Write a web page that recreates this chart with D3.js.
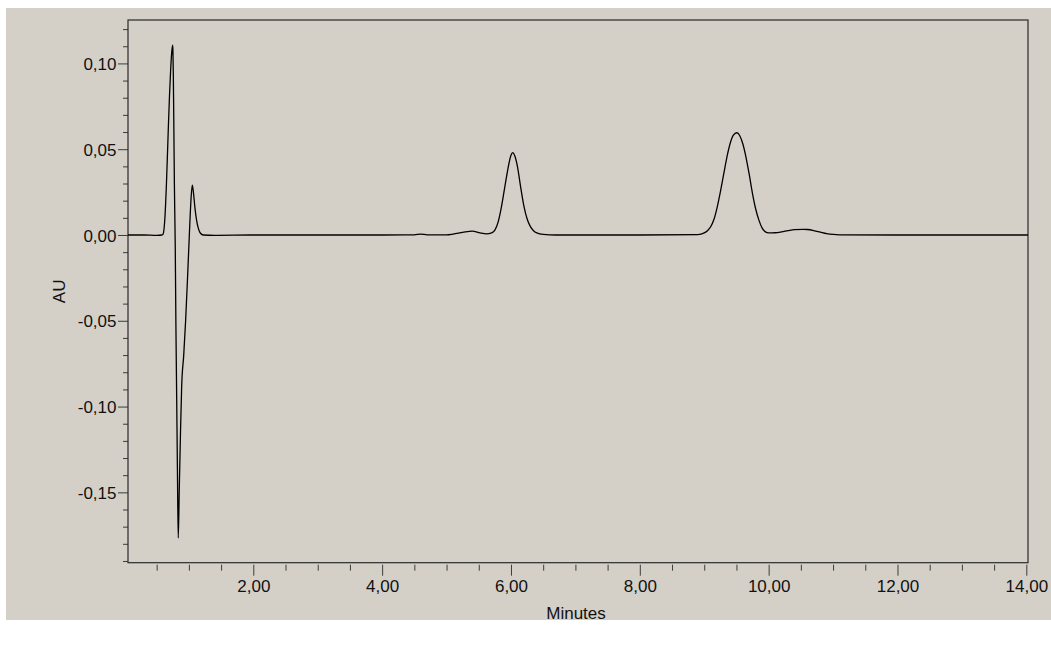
<!DOCTYPE html>
<html>
<head>
<meta charset="utf-8">
<script src="https://cdn.jsdelivr.net/npm/d3@7/dist/d3.min.js"></script>
<style>
  html, body { margin: 0; padding: 0; background: #ffffff; }
  svg { display: block; }
  text { font-family: "Liberation Sans", Arial, sans-serif; fill: #111; }
</style>
</head>
<body>
<svg id="chart" width="1051" height="661"></svg>
<script>
// ---- data ----
const times = [
  0.055, 0.30, 0.50, 0.58, 0.60, 0.629, 0.652, 0.680, 0.700, 0.717, 0.735, 0.748,
  0.752, 0.758, 0.765, 0.775, 0.789, 0.798, 0.811, 0.823, 0.835,
  0.850, 0.870, 0.888, 0.920, 0.950, 0.985, 1.017, 1.035, 1.053, 1.070, 1.095,
  1.120, 1.146, 1.180, 1.224, 1.40, 2.00, 3.00, 4.00, 4.50, 4.60, 4.70, 5.00,
  5.10, 5.25, 5.40, 5.52, 5.62, 5.70, 5.75, 5.80, 5.85, 5.90, 5.95, 6.00, 6.028,
  6.06, 6.10, 6.15, 6.20, 6.25, 6.30, 6.35, 6.40, 6.50, 6.70, 8.00, 8.90,
  9.00, 9.05, 9.10, 9.15, 9.20, 9.25, 9.30, 9.35, 9.40, 9.45, 9.507, 9.55, 9.60,
  9.65, 9.70, 9.75, 9.80, 9.85, 9.90, 9.95, 10.00, 10.10, 10.20, 10.30, 10.40,
  10.54, 10.60, 10.70, 10.80, 10.90, 11.00, 11.10, 12.00, 13.00, 14.026
];
const auValues = [
  0, 0, -0.0002, 0, 0.0005, 0.0107, 0.030, 0.0612, 0.082, 0.0962, 0.107, 0.1107,
  0.108, 0.095, 0.070, 0.030, -0.0087, -0.050, -0.096, -0.140, -0.1766,
  -0.150, -0.115, -0.0884, -0.070, -0.0495, -0.020, 0.0087, 0.022, 0.0291, 0.025, 0.0155,
  0.0085, 0.0040, 0.0010, 0, -0.0002, 0, 0, 0, 0.0001, 0.0005, 0.0001, 0.0001,
  0.0005, 0.0015, 0.0023, 0.0012, 0.0006, 0.0012, 0.0028, 0.0075, 0.016, 0.027, 0.038, 0.0465, 0.048,
  0.046, 0.040, 0.028, 0.017, 0.0095, 0.005, 0.0025, 0.0012, 0.0003, 0, 0, 0.0002,
  0.0012, 0.0025, 0.0048, 0.009, 0.016, 0.025, 0.035, 0.045, 0.053, 0.058, 0.0596, 0.058, 0.053,
  0.045, 0.035, 0.024, 0.015, 0.0085, 0.004, 0.0018, 0.0012, 0.0013, 0.0018, 0.0025, 0.0031,
  0.0033, 0.0032, 0.0026, 0.0017, 0.0008, 0.0003, 0.0001, 0, 0, 0
];
const xMajorTicks = [2, 4, 6, 8, 10, 12, 14];
const xTickLabels = ["2,00", "4,00", "6,00", "8,00", "10,00", "12,00", "14,00"];
const xMinorTicks = [0.5, 1, 1.5, 2.5, 3, 3.5, 4.5, 5, 5.5, 6.5, 7, 7.5, 8.5, 9, 9.5,
                     10.5, 11, 11.5, 12.5, 13, 13.5];
const yMajorTicks = [-0.15, -0.10, -0.05, 0.00, 0.05, 0.10];
const yTickLabels = ["-0,15", "-0,10", "-0,05", "0,00", "0,05", "0,10"];
const yMinorTicks = [-0.19, -0.18, -0.17, -0.16, -0.14, -0.13, -0.12, -0.11, -0.09, -0.08,
                     -0.07, -0.06, -0.04, -0.03, -0.02, -0.01, 0.01, 0.02, 0.03, 0.04,
                     0.06, 0.07, 0.08, 0.09, 0.11, 0.12];
const xTitle = "Minutes";
const yTitle = "AU";

// ---- layout ----
const svg = d3.select("#chart");
const plot = { left: 128, top: 20, right: 1028, bottom: 562.7 };

svg.append("rect")
  .attr("x", 6).attr("y", 8).attr("width", 1045).attr("height", 612)
  .attr("fill", "#d4d0c8");

const x = d3.scaleLinear().domain([0.055, 14.026]).range([plot.left, plot.right]);
const y = d3.scaleLinear().domain([-0.191, 0.1253]).range([plot.bottom, plot.top]);

const axisColor = "#3c3c3c";
const fontSize = "17px";

// x axis (ticks start slightly below the frame)
const xAxisY = plot.bottom + 2;
const xMajor = svg.append("g").attr("transform", `translate(0,${xAxisY})`)
  .call(d3.axisBottom(x).tickValues(xMajorTicks).tickSize(11).tickPadding(4)
    .tickFormat((d, i) => xTickLabels[i]));
const xMinor = svg.append("g").attr("transform", `translate(0,${xAxisY})`)
  .call(d3.axisBottom(x).tickValues(xMinorTicks).tickSize(6).tickFormat(""));

// y axis
const yMajor = svg.append("g").attr("transform", `translate(${plot.left},0)`)
  .call(d3.axisLeft(y).tickValues(yMajorTicks).tickSize(10).tickPadding(1.5)
    .tickFormat((d, i) => yTickLabels[i]));
const yMinor = svg.append("g").attr("transform", `translate(${plot.left},0)`)
  .call(d3.axisLeft(y).tickValues(yMinorTicks).tickSize(5).tickFormat(""));

[xMajor, xMinor, yMajor, yMinor].forEach(g => {
  g.select(".domain").remove();
  g.selectAll(".tick line").attr("stroke", axisColor).attr("stroke-width", 1);
  g.selectAll(".tick text")
    .attr("font-family", '"Liberation Sans", Arial, sans-serif')
    .attr("font-size", fontSize)
    .attr("fill", "#111");
});
yMajor.selectAll(".tick text").attr("dy", "0.36em");

// frame
svg.append("rect")
  .attr("x", plot.left).attr("y", plot.top)
  .attr("width", plot.right - plot.left).attr("height", plot.bottom - plot.top)
  .attr("fill", "none").attr("stroke", "#2a2a2a").attr("stroke-width", 1.2);

// trace
const data = times.map((t, i) => ({ t, v: auValues[i] }));
const line = d3.line().x(d => x(d.t)).y(d => y(d.v)).curve(d3.curveMonotoneX);
svg.append("path")
  .datum(data)
  .attr("d", line)
  .attr("fill", "none")
  .attr("stroke", "#000")
  .attr("stroke-width", 1.3)
  .attr("stroke-linejoin", "round");

// titles
svg.append("text")
  .attr("x", (plot.left + plot.right) / 2 - 2).attr("y", 619)
  .attr("text-anchor", "middle").attr("font-size", fontSize)
  .text(xTitle);
svg.append("text")
  .attr("transform", `translate(65,${(plot.top + plot.bottom) / 2}) rotate(-90)`)
  .attr("text-anchor", "middle").attr("font-size", fontSize)
  .text(yTitle);
</script>
</body>
</html>
